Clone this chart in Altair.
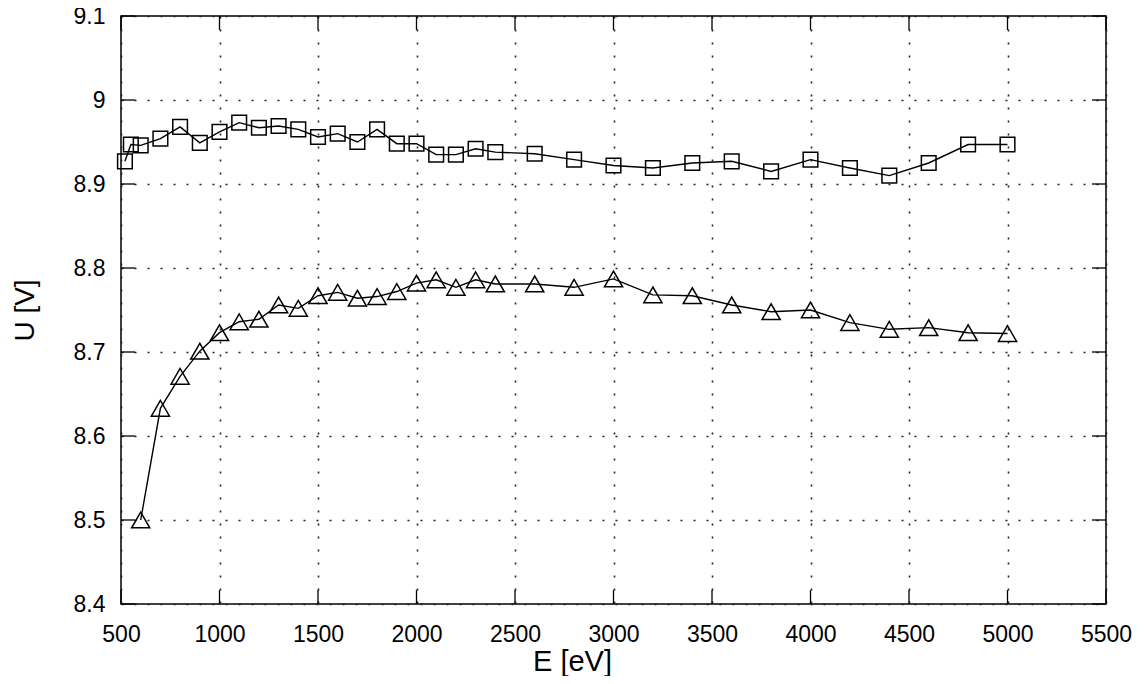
import altair as alt
import pandas as pd

# Square series
E_sq = [520, 550, 600, 700, 800, 900, 1000, 1100, 1200, 1300, 1400, 1500, 1600,
        1700, 1800, 1900, 2000, 2100, 2200, 2300, 2400, 2600, 2800, 3000, 3200,
        3400, 3600, 3800, 4000, 4200, 4400, 4600, 4800, 5000]
U_sq = [8.927, 8.947, 8.946, 8.954, 8.968, 8.949, 8.962, 8.973, 8.967, 8.969,
        8.965, 8.956, 8.960, 8.950, 8.965, 8.948, 8.948, 8.935, 8.935, 8.942,
        8.938, 8.936, 8.929, 8.922, 8.919, 8.925, 8.927, 8.915, 8.929, 8.919,
        8.910, 8.925, 8.947, 8.947]

# Triangle series
E_tri = [600, 700, 800, 900, 1000, 1100, 1200, 1300, 1400, 1500, 1600, 1700,
         1800, 1900, 2000, 2100, 2200, 2300, 2400, 2600, 2800, 3000, 3200, 3400,
         3600, 3800, 4000, 4200, 4400, 4600, 4800, 5000]
U_tri = [8.500, 8.633, 8.671, 8.701, 8.723, 8.736, 8.739, 8.756, 8.752, 8.767,
         8.771, 8.764, 8.766, 8.772, 8.782, 8.786, 8.777, 8.786, 8.781, 8.781,
         8.777, 8.787, 8.768, 8.767, 8.756, 8.748, 8.750, 8.735, 8.727, 8.729,
         8.723, 8.722]

x_ticks = [500, 1000, 1500, 2000, 2500, 3000, 3500, 4000, 4500, 5000, 5500]
y_ticks = [8.4, 8.5, 8.6, 8.7, 8.8, 8.9, 9.0, 9.1]

W, H = 985, 588
TICK = 14
FONT = "Liberation Sans"

df_sq = pd.DataFrame({"E": E_sq, "U": U_sq})
df_tri = pd.DataFrame({"E": E_tri, "U": U_tri})
df_xt = pd.DataFrame({"E": x_ticks})
df_yt = pd.DataFrame({"U": y_ticks})

xscale = alt.Scale(domain=[500, 5500], nice=False, zero=False)
yscale = alt.Scale(domain=[8.4, 9.1], nice=False, zero=False)

xaxis = alt.Axis(values=x_ticks, title="E [eV]", format="d",
                 grid=True, gridColor="#222", gridDash=[2, 11], gridWidth=1.6,
                 ticks=False, domain=False,
                 labelFont=FONT, labelFontSize=23, labelColor="black",
                 labelPadding=19, labelFlush=False,
                 titleFont=FONT, titleFontSize=29, titleFontWeight="normal",
                 titleColor="black", titleX=451, titleY=57,
                 titleAlign="center", titleBaseline="middle")
yaxis = alt.Axis(values=y_ticks, title="U [V]",
                 labelExpr="datum.value == 9 ? '9' : format(datum.value, '.1f')",
                 grid=True, gridColor="#222", gridDash=[2, 11], gridWidth=1.6,
                 ticks=False, domain=False,
                 labelFont=FONT, labelFontSize=23, labelColor="black",
                 labelPadding=16, labelFlush=False,
                 titleFont=FONT, titleFontSize=28, titleFontWeight="normal",
                 titleColor="black", titleX=-96, titleY=H / 2, titleAngle=270,
                 titleAlign="center", titleBaseline="middle")

base_x = alt.X("E:Q", scale=xscale, axis=xaxis)
base_y = alt.Y("U:Q", scale=yscale, axis=yaxis)

line_sq = alt.Chart(df_sq).mark_line(color="black", strokeWidth=1.4).encode(x=base_x, y=base_y)
pts_sq = alt.Chart(df_sq).mark_point(shape="square", size=215, filled=False,
                                     color="black", strokeWidth=1.5, opacity=1).encode(
    x=alt.X("E:Q", scale=xscale), y=alt.Y("U:Q", scale=yscale))
line_tri = alt.Chart(df_tri).mark_line(color="black", strokeWidth=1.4).encode(
    x=alt.X("E:Q", scale=xscale), y=alt.Y("U:Q", scale=yscale))
pts_tri = alt.Chart(df_tri).mark_point(shape="triangle-up", size=330, filled=False,
                                       color="black", strokeWidth=1.5, opacity=1).encode(
    x=alt.X("E:Q", scale=xscale), y=alt.Y("U:Q", scale=yscale))

# inward ticks on all four sides
t_bot = alt.Chart(df_xt).mark_rule(color="black", strokeWidth=1.3).encode(
    x=alt.X("E:Q", scale=xscale), y=alt.value(H), y2=alt.value(H - TICK))
t_top = alt.Chart(df_xt).mark_rule(color="black", strokeWidth=1.3).encode(
    x=alt.X("E:Q", scale=xscale), y=alt.value(0), y2=alt.value(TICK))
t_left = alt.Chart(df_yt).mark_rule(color="black", strokeWidth=1.3).encode(
    y=alt.Y("U:Q", scale=yscale), x=alt.value(0), x2=alt.value(TICK))
t_right = alt.Chart(df_yt).mark_rule(color="black", strokeWidth=1.3).encode(
    y=alt.Y("U:Q", scale=yscale), x=alt.value(W), x2=alt.value(W - TICK))

chart = alt.layer(line_sq, line_tri, pts_sq, pts_tri, t_bot, t_top, t_left, t_right).properties(
    width=W, height=H,
    autosize=alt.AutoSizeParams(type="none"),
    padding={"left": 113, "top": 8, "right": 30, "bottom": 72},
    background="white",
).configure_view(stroke="black", strokeWidth=1.5)

chart.save("out.html", embed_options={"renderer": "svg", "actions": False})
